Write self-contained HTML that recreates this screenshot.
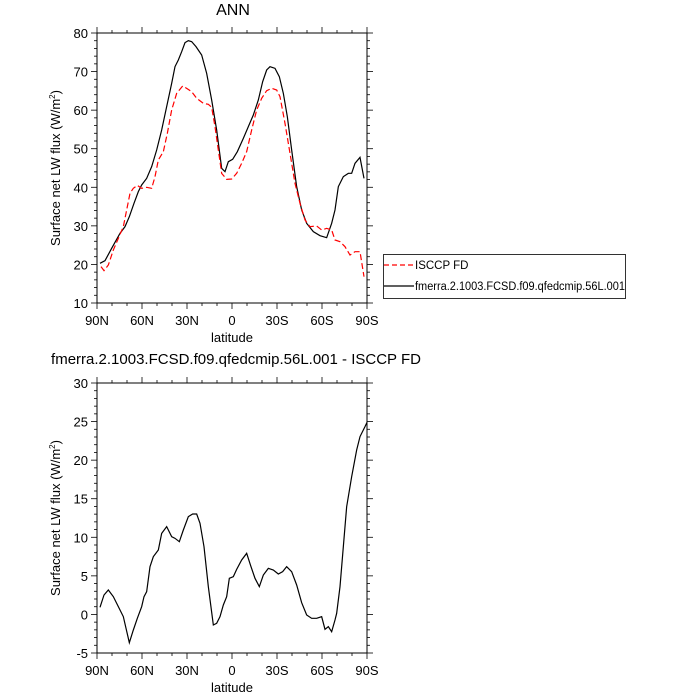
<!DOCTYPE html>
<html><head><meta charset="utf-8"><style>body{margin:0;background:#fff}svg{display:block}text{font-family:"Liberation Sans",sans-serif;fill:#000}</style></head>
<body>
<svg id="s" width="700" height="700" xmlns="http://www.w3.org/2000/svg">
<text x="233" y="15" font-size="16" text-anchor="middle">ANN</text>
<text x="236" y="364" font-size="15" text-anchor="middle">fmerra.2.1003.FCSD.f09.qfedcmip.56L.001 - ISCCP FD</text>
<g transform="translate(40,0) scale(0.33333)" fill="none">
<polyline stroke="#000" stroke-width="1.2" vector-effect="non-scaling-stroke" points="180,790 195,782 215,745 240,700 255,680 268,650 282,610 295,575 305,555 320,535 335,500 350,450 365,390 380,320 395,250 405,200 415,180 425,155 435,128 445,122 455,125 468,140 485,165 500,220 515,300 530,390 545,505 555,515 565,485 578,478 592,455 610,415 625,380 640,345 655,300 668,245 680,210 690,200 705,205 718,230 730,280 742,350 755,450 770,560 785,630 800,670 820,695 840,707 860,713 875,670 885,630 895,560 910,530 925,520 935,520 945,490 960,472 972,535"/>
<polyline stroke="#f00" stroke-width="1.2" stroke-dasharray="6,3" vector-effect="non-scaling-stroke" points="183,800 192,812 205,795 220,750 235,715 250,680 262,620 270,580 280,565 292,556 305,565 320,562 335,565 345,530 355,480 370,455 382,400 395,330 410,280 428,258 440,265 455,275 470,295 490,310 505,313 515,322 525,380 535,450 545,520 560,538 575,537 590,520 605,490 620,455 635,390 650,330 665,295 680,272 695,265 710,270 720,290 735,370 750,460 765,550 780,610 795,660 810,680 830,678 845,690 860,685 875,690 885,720 900,725 915,740 930,765 945,755 960,755 972,830"/>
</g>
<g transform="translate(40,360) scale(0.33333)" fill="none">
<polyline stroke="#000" stroke-width="1.2" vector-effect="non-scaling-stroke" points="180,742 192,705 205,690 220,710 235,740 250,770 268,848 280,810 292,775 305,740 312,710 320,695 330,620 340,590 355,570 365,520 380,500 395,530 405,535 418,545 430,510 445,470 458,462 470,462 480,490 492,560 505,680 520,795 530,790 540,770 550,735 560,710 568,655 580,650 590,628 605,600 620,580 632,617 645,655 658,680 670,645 685,625 700,630 715,642 728,635 740,620 755,635 770,675 785,728 800,765 815,775 830,775 845,770 855,808 865,800 875,815 885,780 890,760 900,680 910,560 920,440 935,350 950,270 960,230 975,200 981,187"/>
</g>
<rect x="383.5" y="254.5" width="242" height="44" fill="none" stroke="#000" stroke-width="0.8"/>
<line x1="384" y1="265" x2="414" y2="265" stroke="#f00" stroke-dasharray="5,3" stroke-width="1.2"/>
<text x="415" y="269" font-size="11.5">ISCCP FD</text>
<line x1="384" y1="286" x2="414" y2="286" stroke="#000" stroke-width="1.2"/>
<text x="415" y="290" font-size="11.5" textLength="210" lengthAdjust="spacingAndGlyphs">fmerra.2.1003.FCSD.f09.qfedcmip.56L.001</text>
</svg>
<script>
var s=document.getElementById('s'),NS='http://www.w3.org/2000/svg';
function el(t,a,txt){var e=document.createElementNS(NS,t);for(var k in a)e.setAttribute(k,a[k]);if(txt!==undefined)e.textContent=txt;s.appendChild(e);}
function plot(top,bot,ymin,ymax,ymaj,ymin2){
 var L=97,R=367;
 el('rect',{x:L,y:top,width:R-L,height:bot-top,fill:'none',stroke:'#000','stroke-width':1});
 var xl=['90N','60N','30N','0','30S','60S','90S'];
 for(var d=0;d<=180;d+=10){var x=L+(R-L)*d/180,m=d%30==0,len=m?6:3;
  el('line',{x1:x,y1:bot,x2:x,y2:bot+len,stroke:'#000','stroke-width':0.8});
  el('line',{x1:x,y1:top,x2:x,y2:top-len,stroke:'#000','stroke-width':0.8});
  if(m)el('text',{x:x,y:bot+22,'font-size':13,'text-anchor':'middle'},xl[d/30]);}
 el('text',{x:(L+R)/2,y:bot+39,'font-size':13,'text-anchor':'middle'},'latitude');
 for(var v=ymin;v<=ymax+1e-6;v+=ymin2){var y=bot-(bot-top)*(v-ymin)/(ymax-ymin),m=Math.abs(v/ymaj-Math.round(v/ymaj))<1e-6,len=m?6:3;
  el('line',{x1:L,y1:y,x2:L-len,y2:y,stroke:'#000','stroke-width':0.8});
  el('line',{x1:R,y1:y,x2:R+len,y2:y,stroke:'#000','stroke-width':0.8});
  if(m)el('text',{x:L-9,y:y+5,'font-size':13,'text-anchor':'end'},String(v));}
 var cy=(top+bot)/2,t=document.createElementNS(NS,'text');
 t.setAttribute('transform','translate(60,'+cy+') rotate(-90)');t.setAttribute('font-size','13');t.setAttribute('text-anchor','middle');
 t.innerHTML='Surface net LW flux (W/m<tspan font-size="8" dy="-5">2</tspan><tspan dy="5">)</tspan>';s.appendChild(t);
}
plot(33,303,10,80,10,2);
plot(383,653,-5,30,5,1);
</script>
</body></html>
